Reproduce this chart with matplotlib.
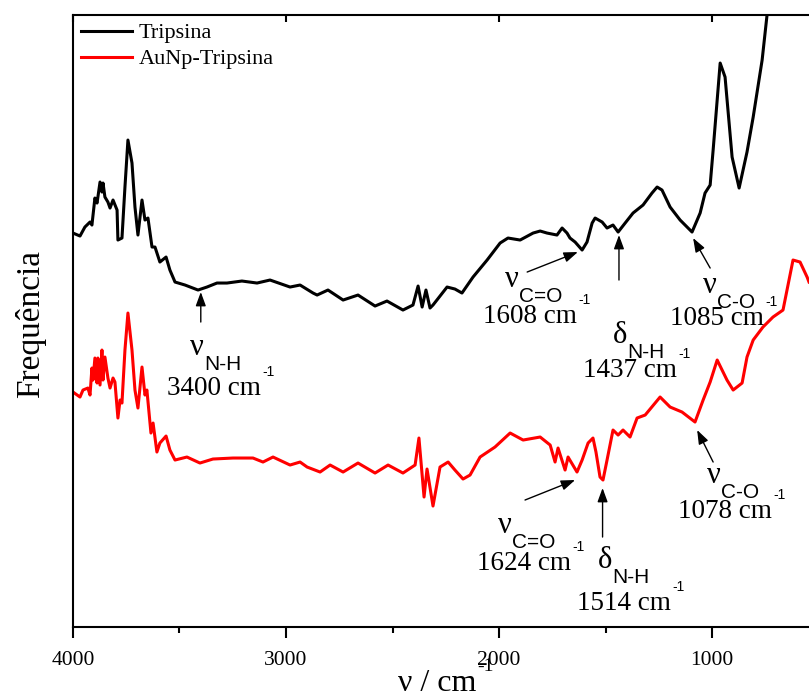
import matplotlib.pyplot as plt

# FTIR spectra: wavenumber (cm-1) vs. intensity (arb. units)
tripsina_wn = [4000, 3967, 3944, 3920, 3911, 3897, 3887, 3873, 3864, 3859, 3850, 3836,
               3826, 3812, 3793, 3789, 3770, 3756, 3742, 3723, 3709, 3695, 3676, 3662,
               3648, 3629, 3615, 3592, 3563, 3545, 3521, 3474, 3413, 3371, 3324, 3277,
               3207, 3136, 3075, 2981, 2934, 2873, 2854, 2803, 2732, 2662, 2582, 2526,
               2451, 2404, 2380, 2361, 2343, 2324, 2310, 2244, 2207, 2174, 2122, 2056,
               1995, 1958, 1901, 1840, 1807, 1775, 1728, 1704, 1681, 1667, 1643, 1610,
               1587, 1563, 1549, 1516, 1493, 1465, 1441, 1408, 1371, 1324, 1282, 1258,
               1235, 1197, 1150, 1094, 1056, 1033, 1009, 995, 962, 939, 906, 873, 836,
               807, 765, 742, 700, 545]
tripsina_y = [394, 391, 400, 405, 402, 429, 424, 445, 435, 444, 430, 425,
              419, 427, 417, 387, 389, 440, 487, 464, 420, 392, 427, 407,
              409, 380, 380, 365, 370, 357, 345, 342, 337, 340, 344, 344,
              346, 344, 347, 340, 342, 334, 332, 337, 327, 332, 321, 326,
              317, 322, 341, 320, 337, 319, 322, 340, 338, 334, 350, 367,
              384, 389, 387, 394, 396, 394, 392, 399, 394, 389, 385, 377,
              385, 404, 409, 405, 399, 402, 395, 404, 414, 422, 434, 440,
              437, 420, 407, 395, 414, 434, 442, 477, 564, 550, 470, 439, 475,
              510, 567, 612, 660, 820]

aunp_wn = [4000, 3967, 3953, 3930, 3920, 3911, 3906, 3897, 3887, 3883, 3873, 3864,
           3859, 3850, 3836, 3826, 3812, 3803, 3789, 3779, 3770, 3756, 3742, 3723,
           3709, 3695, 3676, 3662, 3653, 3634, 3624, 3606, 3592, 3563, 3545, 3521,
           3465, 3404, 3343, 3249, 3155, 3108, 3061, 2981, 2934, 2901, 2840, 2793,
           2732, 2662, 2582, 2521, 2451, 2394, 2376, 2352, 2338, 2310, 2277, 2239,
           2207, 2169, 2136, 2089, 2019, 1948, 1887, 1807, 1760, 1737, 1723, 1690,
           1676, 1634, 1610, 1582, 1559, 1545, 1526, 1512, 1493, 1465, 1441, 1418,
           1385, 1352, 1314, 1244, 1197, 1141, 1080, 1042, 1009, 976, 930, 901,
           859, 836, 807, 761, 714, 667, 620, 587, 554, 545]
aunp_y = [235, 230, 237, 239, 232, 259, 247, 269, 244, 269, 242, 277,
          247, 270, 249, 239, 249, 245, 209, 227, 224, 277, 314, 277,
          237, 219, 260, 232, 237, 194, 204, 175, 184, 191, 177, 167,
          170, 164, 168, 169, 169, 165, 170, 162, 165, 160, 155, 162,
          155, 164, 154, 162, 154, 162, 189, 130, 158, 121, 160, 165,
          157, 148, 152, 170, 180, 194, 187, 190, 182, 165, 179, 157,
          170, 155, 167, 184, 189, 175, 150, 147, 167, 197, 192, 197,
          190, 209, 212, 230, 220, 215, 205, 227, 245, 267, 247, 237,
          244, 270, 287, 300, 310, 317, 367, 365, 350, 345]

serif = 'Liberation Serif'
sans = 'Liberation Sans'

fig = plt.figure(figsize=(8.09, 6.93), dpi=100)
ax = fig.add_axes([0.0902, 0.0952, 0.9098, 0.8831])

ax.plot(tripsina_wn, tripsina_y, color='black', lw=2.2, label='Tripsina')
ax.plot(aunp_wn, aunp_y, color='red', lw=2.2, label='AuNp-Tripsina')

ax.set_xlim(4000, 545)
ax.set_ylim(0, 612)

for side in ('left', 'bottom', 'top'):
    ax.spines[side].set_linewidth(1.5)
ax.spines['right'].set_visible(False)

ax.set_xticks([4000, 3000, 2000, 1000])
ax.set_xticks([3500, 2500, 1500], minor=True)
ax.tick_params(axis='x', which='major', direction='out', length=8, width=1.5,
               pad=9, labelsize=15.5)
ax.tick_params(axis='x', which='minor', direction='out', length=4, width=1.5)
ax.tick_params(axis='x', which='both', top=False, labeltop=False)
for lbl in ax.get_xticklabels():
    lbl.set_family(serif)
ax.set_yticks([])

# inward ticks on the top spine
sec = ax.secondary_xaxis('top')
sec.set_xticks([4000, 3000, 2000, 1000])
sec.tick_params(direction='in', length=5, width=1.5, labeltop=False)
sec.spines['top'].set_visible(False)

leg = ax.legend(loc='upper left', frameon=False, prop={'family': serif, 'size': 16},
                handlelength=2.3, handletextpad=0.3, labelspacing=0.25,
                borderaxespad=0.15, borderpad=0.2)

# axis titles
fig.text(398 / 809, 2 / 693, 'ν / cm', family=serif, size=23, ha='left', va='baseline')
fig.text(477 / 809, 22 / 693, '-1', family=serif, size=14, ha='left', va='baseline')
fig.text(31 / 809, 1 - 324 / 693, 'Frequência', family=serif, size=24,
         rotation=90, ha='center', va='center')

arrow = dict(arrowstyle='-|>,head_length=0.6,head_width=0.22', color='black',
             lw=1, mutation_scale=14, shrinkA=0, shrinkB=0)

# band assignments: arrow head, arrow tail, symbol, subscript, symbol pos, value text, value pos
bands = [
    ((3400, 335), (3400, 305), 'ν', 'N-H', (3451, 272), '3400 cm', (3559, 232)),
    ((1630, 375), (1868, 355), 'ν', 'C=O', (1972, 340), '1608 cm', (2075, 304)),
    ((1437, 392), (1437, 347), 'δ', 'N-H', (1465, 284), '1437 cm', (1606, 250)),
    ((1089, 389), (1009, 359), 'ν', 'C-O', (1042, 334), '1085 cm', (1197, 302)),
    ((1643, 147), (1878, 127), 'ν', 'C=O', (2005, 94), '1624 cm', (2103, 57)),
    ((1514, 139), (1514, 90), 'δ', 'N-H', (1535, 59), '1514 cm', (1634, 17)),
    ((1070, 197), (995, 165), 'ν', 'C-O', (1023, 144), '1078 cm', (1160, 109)),
]

for head, tail, sym, sub, sym_xy, val, val_xy in bands:
    ax.annotate('', xy=head, xytext=tail, arrowprops=arrow)
    s = ax.text(sym_xy[0], sym_xy[1], sym, family=serif, size=22,
                ha='left', va='baseline')
    ax.annotate(sub, xy=(1, 0), xycoords=s, xytext=(0, -6), textcoords='offset points',
                family=sans, size=15, ha='left', va='baseline')
    v = ax.text(val_xy[0], val_xy[1], val, family=serif, size=19.5,
                ha='left', va='baseline')
    ax.annotate('-1', xy=(1, 0), xycoords=v, xytext=(1, 18), textcoords='offset points',
                family=sans, size=10, ha='left', va='baseline')

fig.savefig('out.png', dpi=100)
